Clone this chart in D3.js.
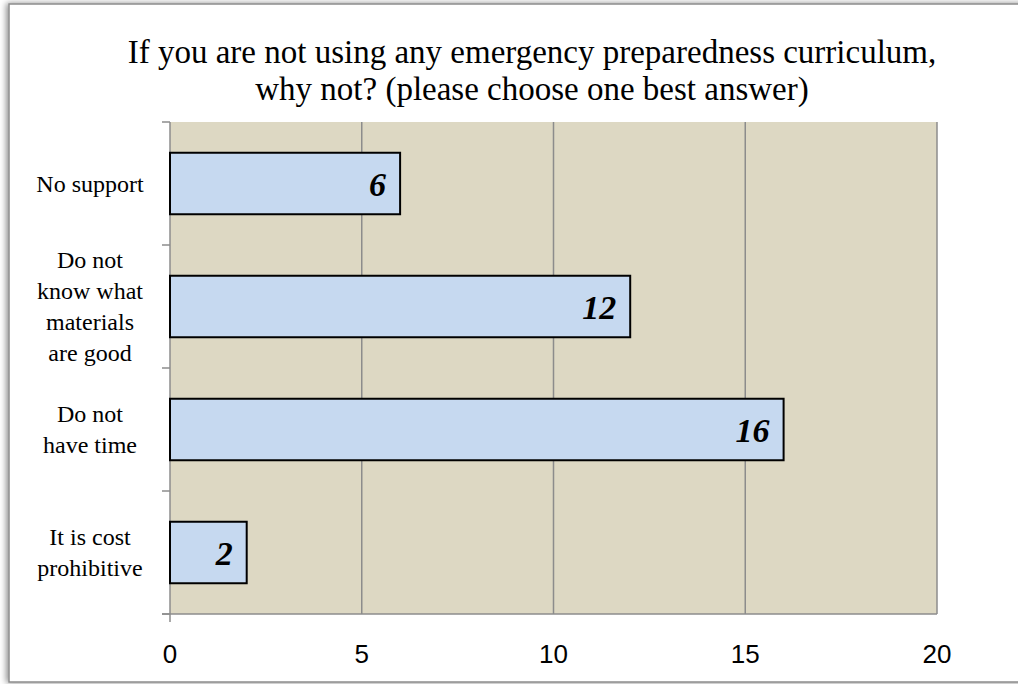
<!DOCTYPE html>
<html>
<head>
<meta charset="utf-8">
<script src="https://cdn.jsdelivr.net/npm/d3@7"></script>
<style>
  body { margin: 0; background: #fff; }
  svg { display: block; }
</style>
</head>
<body>
<svg id="chart"></svg>
<script>
// chart data
var categories = ["No support", "Do not know what materials are good", "Do not have time", "It is cost prohibitive"];
var categoryLines = [["No support"], ["Do not", "know what", "materials", "are good"], ["Do not", "have time"], ["It is cost", "prohibitive"]];
var counts = [6, 12, 16, 2];
var xTicks = [0, 5, 10, 15, 20];
var titleLines = ["If you are not using any emergency preparedness curriculum,", "why not? (please choose one best answer)"];

var width = 1018, height = 684;
var margin = { top: 122, right: 81, bottom: 70, left: 170 };

var svg = d3.select("#chart")
  .attr("width", width)
  .attr("height", height);

// frame with soft shadow
var defs = svg.append("defs");
var f = defs.append("filter").attr("id", "shadow")
  .attr("x", "-5%").attr("y", "-5%").attr("width", "110%").attr("height", "110%");
f.append("feDropShadow").attr("dx", -2).attr("dy", 0).attr("stdDeviation", 3)
  .attr("flood-color", "#000").attr("flood-opacity", 0.45);

svg.append("rect")
  .attr("x", 9).attr("y", 4)
  .attr("width", 1040).attr("height", 678)
  .attr("fill", "#fff")
  .attr("stroke", "#8c8c8c")
  .attr("stroke-width", 1.5)
  .attr("filter", "url(#shadow)");

var x = d3.scaleLinear()
  .domain([0, 20])
  .range([margin.left, width - margin.right]);

var y = d3.scaleBand()
  .domain(categories)
  .range([margin.top, height - margin.bottom])
  .paddingInner(0.5)
  .paddingOuter(0.25);

// plot area
svg.append("rect")
  .attr("x", x(0)).attr("y", margin.top)
  .attr("width", x(20) - x(0))
  .attr("height", height - margin.bottom - margin.top)
  .attr("fill", "#ddd8c3");

// vertical gridlines
svg.append("g").selectAll("line")
  .data(xTicks.slice(1))
  .enter().append("line")
  .attr("x1", function(d) { return x(d); })
  .attr("x2", function(d) { return x(d); })
  .attr("y1", margin.top)
  .attr("y2", height - margin.bottom)
  .attr("stroke", "#8c8c8c")
  .attr("stroke-width", 1.5);

// category axis: line + ticks at band edges
var bandEdges = d3.range(categories.length + 1).map(function(i) {
  return margin.top + i * (height - margin.bottom - margin.top) / categories.length;
});
svg.append("line")
  .attr("x1", x(0)).attr("x2", x(0))
  .attr("y1", margin.top).attr("y2", height - margin.bottom + 8)
  .attr("stroke", "#8c8c8c").attr("stroke-width", 1.5);
svg.append("g").selectAll("line")
  .data(bandEdges)
  .enter().append("line")
  .attr("x1", x(0) - 8).attr("x2", x(0))
  .attr("y1", function(d) { return d; })
  .attr("y2", function(d) { return d; })
  .attr("stroke", "#8c8c8c").attr("stroke-width", 1.5);

// value axis line
svg.append("line")
  .attr("x1", x(0) - 8).attr("x2", x(20))
  .attr("y1", height - margin.bottom).attr("y2", height - margin.bottom)
  .attr("stroke", "#8c8c8c").attr("stroke-width", 1.5);

// x tick labels
svg.append("g").selectAll("text")
  .data(xTicks)
  .enter().append("text")
  .attr("x", function(d) { return x(d); })
  .attr("y", height - margin.bottom + 49)
  .attr("text-anchor", "middle")
  .style("font-family", "'Liberation Sans', Arial, sans-serif")
  .style("font-size", "26px")
  .text(function(d) { return d; });

// bars
svg.append("g").selectAll("rect")
  .data(counts)
  .enter().append("rect")
  .attr("x", x(0))
  .attr("y", function(d, i) { return y(categories[i]); })
  .attr("width", function(d) { return x(d) - x(0); })
  .attr("height", y.bandwidth())
  .attr("fill", "#c6d9f0")
  .attr("stroke", "#000")
  .attr("stroke-width", 2);

// value labels
svg.append("g").selectAll("text")
  .data(counts)
  .enter().append("text")
  .attr("x", function(d) { return x(d) - 14; })
  .attr("y", function(d, i) { return y(categories[i]) + y.bandwidth() / 2 + 12; })
  .attr("text-anchor", "end")
  .style("font-family", "'Liberation Serif', 'Times New Roman', serif")
  .style("font-size", "34px")
  .style("font-weight", "bold")
  .style("font-style", "italic")
  .text(function(d) { return d; });

// category labels
var lineH = 31;
categoryLines.forEach(function(lines, i) {
  var cy = y(categories[i]) + y.bandwidth() / 2;
  var t = svg.append("text")
    .attr("text-anchor", "middle")
    .style("font-family", "'Liberation Serif', 'Times New Roman', serif")
    .style("font-size", "24px");
  lines.forEach(function(l, j) {
    t.append("tspan")
      .attr("x", 90)
      .attr("y", cy + 8 + (j - (lines.length - 1) / 2) * lineH)
      .text(l);
  });
});

// title
svg.append("g").selectAll("text")
  .data(titleLines)
  .enter().append("text")
  .attr("x", 532)
  .attr("y", function(d, i) { return 63 + i * 36.5; })
  .attr("text-anchor", "middle")
  .style("font-family", "'Liberation Serif', 'Times New Roman', serif")
  .style("font-size", "33px")
  .text(function(d) { return d; });
</script>
</body>
</html>
